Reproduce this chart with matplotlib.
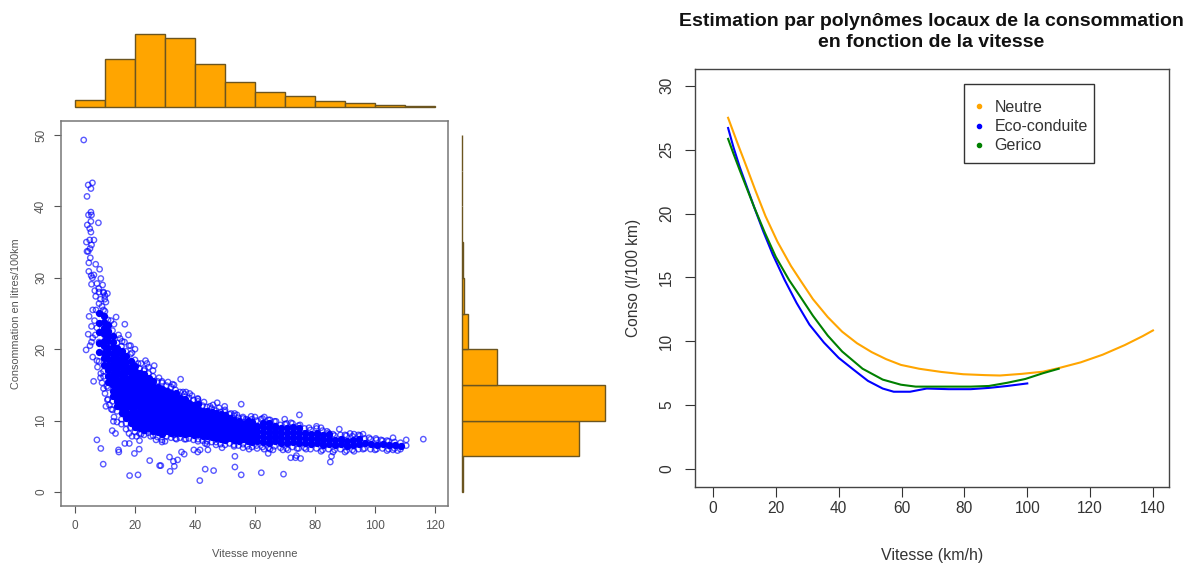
import matplotlib
matplotlib.use("Agg")
import matplotlib.pyplot as plt
from matplotlib.lines import Line2D
from matplotlib.patches import Rectangle

plt.rcParams['font.family'] = ['Liberation Sans', 'DejaVu Sans']

W, H = 1193, 565

# ---------- histogram data ----------
speed_bins = [0, 10, 20, 30, 40, 50, 60, 70, 80, 90, 100, 110, 120]
speed_counts = [22, 144, 221, 208, 131, 77, 44, 33, 18, 12, 6, 2]
conso_bins = [0, 5, 10, 15, 20, 25, 30, 35, 40, 45, 50]
conso_counts = [2, 294, 360, 88, 16, 5, 2, 1, 1, 1]

# ---------- scatter: isolated points ----------
outlier_speed = [2.9, 5.8, 4.4, 5.3, 4.0, 5.3, 4.5, 5.5, 5.3, 7.8, 4.1, 4.9, 5.3, 6.3, 4.9, 3.8, 5.5, 5.0, 4.0, 4.4,
                 5.1, 4.6, 6.9, 8.2, 4.6, 6.3, 5.4, 5.8, 8.6, 5.5, 7.3, 9.2, 6.6, 10.8, 9.5, 6.9, 9.9, 7.9, 10.3,
                 5.9, 4.7, 5.5, 4.4, 5.9, 5.5, 5.0, 3.7, 5.9, 7.3, 6.2, 8.6, 9.5, 10.6, 10.8, 10.3, 12.1,
                 13.7, 16.6, 17.8, 15.7, 20.0, 18.5, 23.5, 26.4, 24.0, 23.2, 35.2, 32.5, 38.2, 40.9, 47.4, 49.9,
                 55.4, 53.2, 58.7, 63.1, 69.9, 74.8, 80.5, 88.1, 96.0, 91.7, 106.0, 110.4, 116.1, 110.4, 107.5, 100.3,
                 7.3, 8.6, 9.4, 12.4, 12.8, 13.5, 14.5, 14.6, 16.6, 18.1, 19.8, 21.4, 21.5, 25.2, 24.9, 28.2, 28.6,
                 18.2, 21.0, 31.5, 32.8, 34.2, 33.1, 31.7, 35.5, 36.4, 39.6, 40.9, 41.7, 44.3, 43.4, 43.4, 46.2, 41.6,
                 53.3, 53.3, 55.4, 62.1, 69.5, 64.4, 60.7, 71.9, 73.8, 73.5, 75.2, 85.5, 85.1, 69.3, 65.0, 30.0, 33.8]
outlier_conso = [49.3, 43.3, 43.0, 42.5, 41.4, 39.2, 38.8, 38.8, 37.9, 37.7, 37.4, 36.9, 36.4, 35.3, 35.3, 35.0, 34.6, 34.1, 33.7, 33.7,
                 32.8, 32.1, 31.9, 31.2, 30.9, 30.4, 30.3, 30.0, 29.9, 29.1, 29.2, 29.0, 28.2, 27.8, 27.9, 27.4, 27.0, 28.5, 26.6,
                 25.5, 24.6, 23.2, 22.1, 21.6, 21.0, 20.5, 19.9, 18.9, 18.4, 15.5, 16.6, 16.2, 14.8, 12.9, 12.0, 11.6,
                 24.5, 23.5, 22.0, 21.1, 20.0, 20.5, 18.4, 17.7, 18.0, 17.2, 15.8, 15.1, 13.8, 13.1, 12.5, 12.0,
                 12.3, 11.0, 10.6, 10.5, 10.2, 10.8, 9.2, 8.8, 8.1, 8.2, 7.6, 7.3, 7.4, 6.5, 5.8, 7.5,
                 7.3, 6.1, 3.9, 8.6, 9.9, 8.2, 5.9, 5.6, 6.8, 6.8, 5.4, 6.0, 7.2, 7.8, 4.4, 3.7, 3.7,
                 2.3, 2.4, 4.9, 4.3, 4.5, 3.6, 2.9, 5.6, 5.3, 5.9, 5.6, 5.9, 5.9, 6.8, 3.2, 3.0, 1.6,
                 5.0, 3.5, 2.4, 2.7, 2.5, 5.4, 6.1, 4.8, 5.1, 4.8, 4.7, 5.0, 4.2, 5.9, 6.0, 7.1, 7.4]

# ---------- scatter: points along the fringe of the cloud ----------
fringe_speed = [12, 13, 14.5, 15, 16.5, 18, 19, 21, 22, 24.5, 26, 28, 29, 31, 33, 36, 37, 39, 41, 43, 45, 46, 48, 50,
                52, 54, 56, 57, 60, 62, 65, 67, 70, 72, 75, 78, 82, 84, 86, 90, 93, 95, 98, 102, 104,
                13, 14, 15.5, 17, 18, 19, 20.5, 22, 24, 27, 29, 33, 37, 41, 44, 47, 49, 53, 56, 58, 63, 66, 71, 74, 77,
                82, 86, 90, 93, 96, 100, 104, 106,
                6.5, 7, 7.3, 6.8, 8, 7.5, 8.5, 9, 9.5, 10, 11, 11.5, 12.5, 8.5, 9, 10, 8, 9.5, 10]
fringe_conso = [24, 23.5, 22, 21.5, 21, 20.5, 19.5, 18, 18, 17.5, 17, 16, 15.5, 15.4, 15, 14, 14, 13.5, 13, 12.6, 12, 12.2, 11.8, 11.5,
                11, 10.8, 10.5, 10.2, 10.5, 10.2, 10.1, 9.9, 9.5, 9.7, 9.4, 9.0, 9.0, 8.5, 8.1, 8.0, 8.1, 7.9, 7.6, 7.3, 7.2,
                10.5, 9.8, 9.5, 8.8, 8.2, 7.8, 7.8, 8.1, 8.6, 7.3, 7.0, 8, 7.4, 7.1, 6.7, 6.6, 6.2, 6.4, 6.2, 6, 6, 5.9, 5.9, 6.1, 6.0,
                5.7, 5.6, 5.6, 5.7, 6, 5.9, 5.8, 5.9,
                24, 25.5, 23, 22, 21, 17.5, 16, 15.3, 14.5, 13.8, 13, 12.2, 11.5, 27, 26, 25.3, 28, 28, 27.5]

# ---------- scatter: dense cloud, one list of readings per speed ----------
cloud_speed = [8.0, 9.5, 11.0, 12.5, 14.0, 15.5, 17.0, 18.5, 20.0, 21.5, 23.0, 24.5, 26.0, 27.5, 29.0, 30.5, 32.0, 33.5,
               35.0, 36.5, 38.0, 39.5, 41.0, 42.5, 44.0, 45.5, 47.0, 48.5, 50.0, 51.5, 53.0, 54.5, 56.0, 57.5, 59.0,
               60.5, 62.5, 64.5, 66.5, 68.5, 70.5, 72.5, 74.5, 76.5, 78.5, 80.5, 82.5, 84.5, 86.5, 88.5, 90.5, 92.5,
               94.5, 96.5, 98.5, 100.5, 102.5, 104.5, 106.5, 108.5]
cloud_conso = [
    [18.3, 19.6, 20.9, 22.4, 23.7, 25.1, 26.4],
    [16.9, 17.8, 18.7, 19.5, 20.4, 21.2, 22.1, 22.9, 23.8, 24.6, 25.5],
    [14.6, 15.4, 16.3, 17.1, 17.8, 18.6, 19.5, 20.2, 21.1, 21.9, 22.6, 23.4, 24.1],
    [12.7, 13.5, 14.2, 15.0, 15.8, 16.5, 17.3, 18.0, 18.8, 19.5, 20.3, 21.0, 21.8, 22.6],
    [11.3, 12.0, 12.8, 13.5, 14.3, 15.0, 15.7, 16.5, 17.2, 17.9, 18.6, 19.4, 20.1, 20.9],
    [10.2, 11.0, 11.7, 12.4, 13.2, 13.9, 14.6, 15.3, 16.0, 16.7, 17.5, 18.2, 18.9, 19.7, 20.4],
    [9.6, 10.3, 11.0, 11.8, 12.5, 13.2, 13.9, 14.6, 15.3, 16.0, 16.8, 17.5, 18.2, 19.0, 19.7],
    [9.0, 9.7, 10.4, 11.1, 11.9, 12.6, 13.3, 14.0, 14.7, 15.4, 16.1, 16.8, 17.5, 18.3, 19.3],
    [8.4, 9.1, 9.8, 10.5, 11.2, 12.0, 12.7, 13.4, 14.1, 14.8, 15.5, 16.2, 16.9, 17.7, 18.5],
    [8.2, 8.9, 9.6, 10.3, 11.0, 11.7, 12.4, 13.1, 13.8, 14.5, 15.2, 15.9, 16.6, 17.3],
    [8.0, 8.7, 9.4, 10.1, 10.8, 11.5, 12.2, 12.9, 13.6, 14.3, 15.0, 15.7, 16.5, 17.0],
    [8.3, 9.0, 9.7, 10.4, 11.1, 11.8, 12.5, 13.2, 13.9, 14.6, 15.3, 16.0, 16.6],
    [7.9, 8.6, 9.3, 10.0, 10.7, 11.4, 12.1, 12.8, 13.5, 14.2, 14.9, 15.6, 16.2],
    [7.7, 8.4, 9.1, 9.8, 10.5, 11.2, 11.9, 12.6, 13.3, 14.0, 14.7, 15.5],
    [7.3, 8.1, 8.8, 9.5, 10.2, 10.9, 11.6, 12.3, 13.0, 13.7, 14.4, 15.3],
    [7.8, 8.5, 9.2, 9.9, 10.6, 11.3, 12.0, 12.7, 13.4, 14.1, 14.9],
    [7.6, 8.3, 9.0, 9.7, 10.4, 11.1, 11.8, 12.5, 13.2, 13.9, 14.7],
    [7.5, 8.2, 8.9, 9.6, 10.3, 11.0, 11.7, 12.4, 13.1, 13.8, 14.3],
    [7.6, 8.3, 9.0, 9.7, 10.4, 11.1, 11.8, 12.5, 13.2, 14.0],
    [7.4, 8.1, 8.8, 9.5, 10.2, 10.9, 11.6, 12.3, 13.0, 13.7],
    [7.5, 8.2, 8.9, 9.6, 10.3, 11.0, 11.7, 12.4, 13.2],
    [7.3, 8.0, 8.7, 9.4, 10.1, 10.8, 11.5, 12.2, 12.9],
    [7.4, 8.1, 8.8, 9.5, 10.2, 10.9, 11.6, 12.3, 12.7],
    [7.2, 7.9, 8.6, 9.3, 10.0, 10.7, 11.4, 12.1],
    [7.1, 7.8, 8.5, 9.2, 9.9, 10.6, 11.3, 11.9],
    [7.0, 7.7, 8.4, 9.1, 9.8, 10.5, 11.2, 11.7],
    [7.0, 7.6, 8.3, 9.0, 9.7, 10.4, 11.1, 11.4],
    [6.7, 7.4, 8.1, 8.8, 9.5, 10.2, 10.9, 11.2],
    [6.6, 7.3, 8.0, 8.7, 9.4, 10.1, 10.8, 11.2],
    [6.8, 7.5, 8.2, 8.9, 9.6, 10.3, 10.9],
    [6.6, 7.3, 8.0, 8.7, 9.4, 10.1, 10.7],
    [6.5, 7.2, 7.9, 8.6, 9.3, 10.0, 10.4],
    [6.7, 7.4, 8.1, 8.8, 9.5, 10.3],
    [6.4, 7.1, 7.8, 8.5, 9.2, 9.9, 10.1],
    [6.3, 7.0, 7.7, 8.4, 9.1, 9.8, 10.2],
    [6.5, 7.2, 7.9, 8.6, 9.3, 10.0],
    [6.3, 7.0, 7.7, 8.4, 9.1, 9.7, 10.3],
    [6.2, 6.9, 7.6, 8.3, 9.0, 9.7, 10.1],
    [6.4, 7.1, 7.8, 8.5, 9.2, 9.9],
    [6.2, 6.9, 7.6, 8.3, 9.0, 9.4],
    [6.1, 6.8, 7.5, 8.2, 8.9, 9.6],
    [6.3, 7.0, 7.7, 8.4, 9.1, 9.6],
    [6.1, 6.8, 7.5, 8.2, 8.9, 9.3],
    [6.2, 6.9, 7.6, 8.3, 8.9],
    [6.0, 6.7, 7.4, 8.1, 8.7],
    [6.1, 6.8, 7.5, 8.2, 8.9],
    [5.9, 6.6, 7.3, 8.0, 8.6],
    [6.0, 6.7, 7.4, 8.1, 8.3],
    [5.9, 6.6, 7.3, 7.9],
    [6.0, 6.7, 7.4, 8.0],
    [5.8, 6.5, 7.2, 7.9],
    [5.9, 6.6, 7.3, 7.8],
    [6.0, 6.7, 7.4, 8.0],
    [6.1, 6.8, 7.5],
    [6.0, 6.7, 7.4],
    [6.0, 6.6, 7.3],
    [6.1, 6.7, 7.2],
    [6.0, 6.6, 7.1],
    [6.1, 6.6, 7.0],
    [6.0, 6.5, 6.9],
]

# ---------- local polynomial curves ----------
neutre_x = [4.8, 7.5, 10.3, 13.5, 16.7, 20.5, 24.8, 28.0, 31.8, 36.5, 41.1, 45.8, 50.5, 55.1, 59.8, 65.6, 72.6, 79.6, 86.6, 91.3,
            98.3, 105, 110, 117, 124, 131, 136.7, 140]
neutre_y = [27.5, 25.7, 23.9, 21.8, 19.8, 17.8, 15.9, 14.7, 13.3, 11.9, 10.75, 9.85, 9.15, 8.6, 8.15, 7.85, 7.6, 7.42, 7.35, 7.32,
            7.45, 7.62, 7.9, 8.35, 8.95, 9.7, 10.4, 10.85]
eco_x = [4.8, 6.5, 8.5, 13.1, 16, 19, 22.8, 26.6, 30.7, 35.3, 40, 44.6, 49.3, 54, 57.5, 62.7, 68, 75, 82, 87.8, 93.6, 100]
eco_y = [26.7, 25.2, 23.65, 20.5, 18.6, 16.8, 14.8, 13, 11.3, 9.9, 8.7, 7.8, 6.9, 6.3, 6.05, 6.05, 6.3, 6.25, 6.25, 6.35, 6.5, 6.7]
gerico_x = [4.8, 6.5, 8.5, 13.1, 16.5, 20, 24.2, 28.3, 31.8, 36.5, 41.1, 47.6, 54, 59.8, 64.5, 72.6, 82, 87.8, 93.6, 99.4, 105, 110]
gerico_y = [25.85, 24.7, 23.4, 20.5, 18.5, 16.6, 14.8, 13.3, 12, 10.45, 9.2, 7.85, 7, 6.6, 6.45, 6.45, 6.45, 6.5, 6.75, 7.05, 7.5, 7.85]

xticks_left = [0, 20, 40, 60, 80, 100, 120]
yticks_left = [0, 10, 20, 30, 40, 50]
xticks_right = [0, 20, 40, 60, 80, 100, 120, 140]
yticks_right = [0, 5, 10, 15, 20, 25, 30]
curve_names = ['Neutre', 'Eco-conduite', 'Gerico']
curve_colors = ['orange', 'blue', 'green']


def axes_px(fig, left, top, right, bottom):
    return fig.add_axes([left / W, 1 - bottom / H, (right - left) / W, (bottom - top) / H])


def style_frame(ax, color, lw):
    for s in ax.spines.values():
        s.set_color(color)
        s.set_linewidth(lw)


fig = plt.figure(figsize=(W / 100, H / 100), dpi=100)
grey = '#555555'

# scatter
ax = axes_px(fig, 61, 121, 448, 506)
ring_x = list(outlier_speed) + list(fringe_speed)
ring_y = list(outlier_conso) + list(fringe_conso)
disk_x, disk_y = [], []
for sp, vals in zip(cloud_speed, cloud_conso):
    ring_x += [sp, sp]
    ring_y += [vals[0], vals[-1]]
    disk_x += [sp] * (len(vals) - 2)
    disk_y += vals[1:-1]
ax.scatter(disk_x, disk_y, s=18, facecolors='blue', edgecolors='blue', linewidths=1.0)
ax.scatter(ring_x, ring_y, s=15, facecolors='none', edgecolors=(0, 0, 1, 0.65), linewidths=1.0)
ax.set_xlim(-4.67, 124.33)
ax.set_ylim(-1.96, 51.96)
ax.set_xticks(xticks_left)
ax.set_yticks(yticks_left)
ax.tick_params(axis='both', length=5, width=0.8, color=grey, labelcolor=grey, labelsize=8.5, pad=5)
plt.setp(ax.get_yticklabels(), rotation=90, va='center')
ax.set_xlabel('Vitesse moyenne', fontsize=8.0, color=grey, labelpad=12.5)
ax.set_ylabel('Consommation en litres/100km', fontsize=7.8, color=grey, labelpad=10)
style_frame(ax, '#777777', 1.1)

# top histogram
axt = axes_px(fig, 61, 34, 448, 107)
bars = axt.bar(speed_bins[:-1], speed_counts, width=10, align='edge', color='orange', edgecolor='#6b5520', linewidth=1.0)
for b in bars:
    b.set_clip_on(False)
axt.set_xlim(-4.67, 124.33)
axt.set_ylim(0, max(speed_counts))
axt.axis('off')

# right histogram
axr = axes_px(fig, 462, 121, 605, 506)
bars = axr.barh(conso_bins[:-1], conso_counts, height=5, align='edge', color='orange', edgecolor='#6b5520', linewidth=1.0)
for b in bars:
    b.set_clip_on(False)
axr.set_xlim(0, max(conso_counts))
axr.set_ylim(-1.96, 51.96)
axr.axis('off')

# curves
axc = axes_px(fig, 695, 69, 1169, 487)
axc.plot(neutre_x, neutre_y, color=curve_colors[0], lw=1.5)
axc.plot(eco_x, eco_y, color=curve_colors[1], lw=1.5)
axc.plot(gerico_x, gerico_y, color=curve_colors[2], lw=1.5)
axc.set_xlim(-5.73, 145.1)
axc.set_ylim(-1.41, 31.32)
axc.set_xticks(xticks_right)
axc.set_yticks(yticks_right)
axc.tick_params(axis='both', length=7, width=0.8, color='#333333', labelcolor='#333333', labelsize=11.2, pad=3)
axc.tick_params(axis='y', pad=8)
plt.setp(axc.get_yticklabels(), rotation=90, va='center')
axc.set_xlabel('Vitesse (km/h)', fontsize=11.5, color='#333333', labelpad=23)
axc.set_ylabel('Conso (l/100 km)', fontsize=11.2, color='#333333', labelpad=13)
style_frame(axc, '#444444', 1.0)

# legend box, then the entries inside it
fig.add_artist(Rectangle((964 / W, 1 - 163 / H), 130 / W, 79 / H, transform=fig.transFigure,
                         facecolor='white', edgecolor='#333333', linewidth=1.0, zorder=5))
handles = [Line2D([], [], linestyle='none', marker='o', markersize=3.0, color=c) for c in curve_colors]
leg = fig.legend(handles, curve_names, loc='upper left',
                 bbox_to_anchor=(972 / W, 1 - 100 / H), borderaxespad=0,
                 fontsize=11.5, frameon=False,
                 handletextpad=0.5, labelspacing=0.26, borderpad=0, handlelength=0.9)
leg.set_zorder(6)
for t in leg.get_texts():
    t.set_color('#333333')

fig.text(931 / W, 1 - 32 / H, 'Estimation par polynômes locaux de la consommation\nen fonction de la vitesse',
         ha='center', va='center', fontsize=14.0, fontweight='bold', color='#111111', linespacing=1.32)

fig.savefig('out.png', dpi=100)
